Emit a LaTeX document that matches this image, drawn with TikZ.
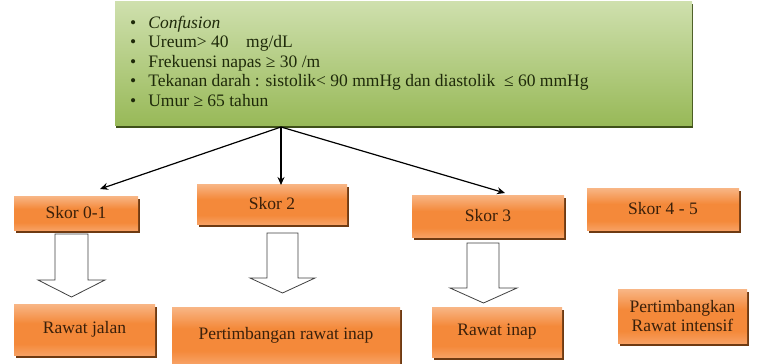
\documentclass[tikz,border=0pt]{standalone}
\usepackage{fontspec}
\setmainfont{Liberation Serif}
\usetikzlibrary{arrows.meta,calc}

\definecolor{orTop}{HTML}{F8B686}
\definecolor{orMid}{HTML}{F4893A}
\definecolor{orBot}{HTML}{F7A062}
\definecolor{orShadow}{HTML}{6E3A12}
\definecolor{grTop}{HTML}{CFE0AE}
\definecolor{grBot}{HTML}{98B958}
\definecolor{grShadow}{HTML}{3F5019}
\definecolor{inkBrown}{HTML}{3A200A}
\definecolor{inkGreen}{HTML}{1F2A0A}

% orange fill: lighter rim at top, saturated band, lighter again at the bottom
\pgfdeclareverticalshading{orangefill}{100bp}{%
  color(0bp)=(orBot); color(25bp)=(orBot); color(36bp)=(orMid);
  color(56bp)=(orMid); color(75bp)=(orTop); color(100bp)=(orTop)}
\pgfdeclareverticalshading{greenfill}{100bp}{%
  color(0bp)=(grBot); color(25bp)=(grBot); color(75bp)=(grTop); color(100bp)=(grTop)}

\tikzset{
  orangebox/.style={
    rectangle, inner sep=0pt, align=center, shading=orangefill,
    preaction={fill=orShadow, transform canvas={xshift=1.6pt,yshift=-2.8pt}},
    text=inkBrown, font=\fontsize{17.5}{19.5}\selectfont
  },
  greenbox/.style={
    rectangle, inner sep=0pt, shading=greenfill,
    preaction={fill=grShadow, transform canvas={xshift=1.2pt,yshift=-2.8pt}}
  },
  listtext/.style={
    anchor=north west, inner sep=0pt, align=left, text=inkGreen,
    font=\fontsize{17.5}{19.4}\selectfont
  },
  pointer/.style={
    draw=black, line width=1.2pt,
    -{Stealth[length=8pt,width=7pt]}
  },
  blockarrow/.style={
    draw=black!75, fill=white, line width=0.8pt, line join=miter
  }
}

\begin{document}
\begin{tikzpicture}[x=1pt,y=-1pt]
  \useasboundingbox (0,0) rectangle (758,364);

  % criteria box
  \node[greenbox, minimum width=577pt, minimum height=124pt] (crit) at (403.5,63) {};
  \node[listtext] (critlist) at (130,16) {%
    \textbullet\hspace{12pt}\textit{Confusion}\\
    \textbullet\hspace{12pt}Ureum> 40\quad mg/dL\\
    \textbullet\hspace{12pt}Frekuensi napas ≥ 30 /m\\
    \textbullet\hspace{12pt}Tekanan darah : sistolik< 90 mmHg dan diastolik\ \ ≤ 60 mmHg\\
    \textbullet\hspace{12pt}Umur ≥ 65 tahun};

  % score boxes
  \node[orangebox, minimum width=124pt, minimum height=34pt] (s01) at (76,213) {Skor 0-1};
  \node[orangebox, minimum width=150pt, minimum height=40pt] (s2)  at (272,204) {Skor 2};
  \node[orangebox, minimum width=152pt, minimum height=42pt] (s3)  at (488,216) {Skor 3};
  \node[orangebox, minimum width=152pt, minimum height=42pt] (s45) at (663,209) {Skor 4 - 5};

  % care boxes
  \node[orangebox, minimum width=141pt, minimum height=51pt] (rj)   at (84.5,329.5) {Rawat jalan};
  \node[orangebox, minimum width=228pt, minimum height=56pt] (pri)  at (286,335) {Pertimbangan rawat inap};
  \node[orangebox, minimum width=130pt, minimum height=50pt] (ri)   at (497,332) {Rawat inap};
  \node[orangebox, minimum width=129pt, minimum height=54pt] (prin) at (682.5,316) {Pertimbangkan\\Rawat intensif};

  % pointers from the criteria box to the scores
  \coordinate (src) at (281,127);
  \coordinate (t01) at (100,189);
  \coordinate (t2)  at (281,185);
  \coordinate (t3)  at (505,193);
  \draw[pointer] (src) -- (t01);
  \draw[pointer] (src) -- (t2);
  \draw[pointer] (src) -- (t3);

  % hollow block arrows from scores to care
  \draw[blockarrow] (55,234) -- (55,280) -- (38,280) -- (71.5,297) -- (105,280) -- (88,280) -- (88,234) -- cycle;
  \draw[blockarrow] (267,233) -- (267,278) -- (250,278) -- (282.5,293) -- (315,278) -- (298,278) -- (298,233) -- cycle;
  \draw[blockarrow] (467,243) -- (467,288) -- (450,288) -- (483.5,303) -- (517,288) -- (499,288) -- (499,243) -- cycle;
\end{tikzpicture}
\end{document}
